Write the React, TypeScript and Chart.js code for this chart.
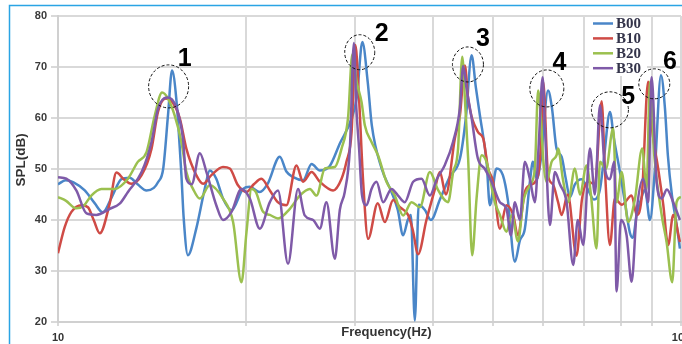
import React, { useEffect, useRef } from "react";
import { Chart, registerables } from "chart.js";

Chart.register(...registerables);

const seriesNames = ["B00", "B10", "B20", "B30"];
const seriesColors = ["#4a86c8", "#cf4b46", "#9bc04f", "#7f5aa8"];

const b00Freq = [10.0, 10.29, 10.59, 11.04, 11.45, 11.8, 12.2, 12.64, 13.03, 13.42, 13.87, 14.25, 14.47, 14.75, 15.02, 15.24, 15.48, 15.78, 15.91, 16.16, 16.67, 17.2, 17.52, 17.95, 18.4, 18.99, 19.82, 20.32, 21.08, 21.7, 22.7, 23.26, 23.85, 24.74, 25.53, 26.32, 27.31, 28.34, 29.6, 30.17, 30.8, 31.42, 31.89, 33.07, 34.3, 35.1, 35.81, 36.43, 36.85, 37.39, 37.93, 38.79, 39.68, 41.02, 42.56, 44.17, 45.15, 46.12, 46.85, 47.56, 48.74, 49.34, 50.56, 51.77, 52.72, 54.11, 55.13, 56.15, 57.21, 57.85, 58.69, 59.58, 61.18, 62.06, 63.13, 64.32, 65.34, 66.33, 67.56, 69.26, 70.87, 72.48, 74.11, 75.21, 76.9, 78.04, 79.8, 81.28, 82.79, 83.71, 84.84, 86.24, 87.51, 89.16, 90.81, 92.86, 94.23, 95.26, 96.71, 98.13, 99.6];
const b00Spl = [47.0, 47.8, 47.4, 45.8, 43.3, 41.5, 44.5, 48.0, 48.3, 47.0, 45.8, 46.3, 47.4, 50.0, 60.7, 69.3, 63.9, 48.8, 40.5, 33.1, 38.3, 46.1, 49.7, 48.1, 44.2, 41.9, 46.1, 46.5, 45.5, 47.1, 52.4, 49.5, 48.4, 47.8, 51.0, 49.7, 50.6, 55.0, 59.9, 64.0, 74.9, 67.0, 58.6, 50.1, 45.5, 42.0, 37.0, 40.0, 41.0, 20.3, 43.0, 42.0, 40.0, 44.0, 48.5, 52.0, 60.0, 72.3, 66.0, 60.5, 51.4, 42.9, 50.1, 48.8, 44.0, 31.8, 36.0, 38.3, 47.5, 51.4, 48.0, 52.0, 65.4, 62.0, 54.0, 52.4, 48.0, 44.5, 47.0, 48.0, 46.0, 44.0, 46.0, 52.0, 61.2, 56.0, 49.4, 43.5, 37.5, 36.5, 40.9, 44.0, 46.0, 40.0, 50.0, 68.4, 62.0, 52.7, 44.8, 40.0, 34.4];

const b10Freq = [10.0, 10.25, 10.51, 10.91, 11.17, 11.41, 11.67, 12.11, 12.41, 12.75, 13.11, 13.62, 14.13, 14.47, 14.89, 15.22, 15.68, 16.07, 16.67, 17.1, 17.63, 18.4, 18.87, 19.45, 20.07, 20.62, 21.21, 21.88, 22.53, 23.26, 24.14, 24.74, 25.53, 26.32, 27.64, 28.52, 29.04, 29.6, 30.01, 30.42, 30.89, 31.46, 32.6, 33.47, 34.51, 35.38, 36.47, 37.12, 37.84, 39.03, 40.26, 41.02, 41.93, 43.35, 44.17, 44.99, 45.53, 47.19, 48.14, 49.02, 49.94, 51.2, 52.47, 53.78, 54.7, 56.15, 57.21, 58.97, 59.73, 60.08, 61.18, 62.28, 63.49, 64.32, 65.81, 67.97, 69.34, 70.94, 72.74, 74.58, 75.48, 76.9, 78.32, 80.39, 83.31, 84.93, 86.56, 88.56, 89.82, 91.9, 93.65, 95.37, 97.17, 99.6];
const b10Spl = [33.5, 38.6, 41.6, 42.9, 42.5, 40.0, 37.4, 43.3, 49.3, 48.0, 47.1, 48.8, 54.0, 61.2, 63.8, 63.3, 60.0, 54.0, 48.8, 47.1, 48.8, 50.4, 50.1, 46.8, 45.5, 47.0, 48.1, 45.8, 43.5, 42.9, 50.7, 47.5, 49.4, 47.5, 45.8, 48.1, 51.4, 57.3, 74.3, 64.0, 47.5, 36.3, 43.3, 39.6, 43.9, 42.5, 41.0, 38.0, 33.3, 40.0, 46.0, 49.4, 45.0, 56.0, 60.5, 70.3, 63.8, 57.3, 56.0, 50.1, 47.5, 38.3, 42.9, 41.0, 37.0, 45.5, 46.8, 48.8, 57.3, 67.1, 48.8, 47.0, 43.5, 41.0, 45.0, 33.0, 44.0, 47.5, 47.0, 63.3, 50.0, 35.1, 44.2, 43.0, 44.8, 41.0, 45.0, 67.1, 58.0, 50.1, 43.0, 35.1, 41.0, 35.7];

const b20Freq = [10.0, 10.29, 10.7, 11.0, 11.31, 11.74, 12.33, 12.95, 13.43, 13.87, 14.3, 14.69, 15.02, 15.39, 15.78, 16.07, 16.47, 16.89, 17.52, 18.4, 19.1, 19.7, 20.07, 20.45, 20.77, 21.34, 21.88, 22.55, 23.56, 24.44, 25.37, 26.0, 26.81, 27.82, 28.52, 29.21, 29.68, 30.17, 30.71, 31.08, 31.86, 32.63, 33.67, 34.72, 35.81, 36.94, 38.09, 39.53, 40.7, 42.28, 43.08, 43.87, 44.55, 44.99, 45.53, 46.22, 46.97, 47.86, 48.74, 50.25, 51.2, 52.47, 53.52, 54.76, 55.8, 57.21, 58.27, 58.97, 59.58, 60.08, 60.83, 61.99, 63.13, 63.49, 64.63, 65.88, 67.56, 68.83, 70.54, 71.68, 73.19, 74.11, 75.76, 77.84, 78.81, 80.3, 82.25, 84.32, 86.65, 88.05, 89.16, 90.58, 93.1, 94.81, 96.82, 98.38, 100];
const b20Spl = [44.5, 43.8, 42.3, 42.8, 44.8, 46.1, 46.1, 48.1, 51.4, 53.3, 60.5, 65.0, 63.8, 60.5, 55.3, 49.4, 46.1, 44.2, 46.8, 44.2, 39.6, 27.8, 37.6, 46.1, 45.5, 41.6, 41.0, 40.3, 42.2, 44.8, 46.1, 44.8, 50.1, 50.4, 54.0, 60.0, 72.5, 67.0, 63.1, 58.6, 55.3, 52.7, 47.5, 44.8, 40.9, 43.5, 42.5, 49.4, 46.0, 43.5, 49.4, 54.0, 72.0, 63.8, 52.1, 33.1, 44.2, 52.7, 51.4, 43.5, 41.0, 37.7, 41.0, 35.8, 43.5, 46.8, 50.1, 65.4, 60.0, 52.1, 47.5, 51.4, 52.7, 54.0, 48.0, 43.5, 50.1, 45.0, 50.7, 45.0, 34.4, 51.4, 50.0, 58.0, 43.5, 49.4, 39.6, 44.0, 54.0, 46.1, 67.1, 52.7, 41.0, 35.7, 27.8, 43.5, 44.5];

const b30Freq = [10.0, 10.31, 10.7, 11.11, 11.52, 12.11, 12.56, 12.95, 13.62, 14.13, 14.47, 14.95, 15.22, 15.57, 15.87, 16.07, 16.39, 16.89, 17.31, 17.95, 18.4, 18.99, 19.7, 20.32, 21.08, 21.88, 22.55, 23.4, 24.28, 24.89, 25.68, 26.32, 26.97, 27.82, 28.34, 28.86, 29.41, 29.85, 30.12, 30.43, 30.75, 31.28, 31.86, 32.45, 33.26, 34.3, 35.14, 36.03, 37.16, 38.33, 39.53, 40.55, 41.78, 43.08, 44.17, 44.71, 45.27, 46.12, 47.19, 48.44, 49.65, 51.2, 52.47, 53.33, 54.11, 55.13, 56.15, 57.21, 58.27, 59.12, 59.96, 60.46, 61.6, 62.74, 63.92, 65.51, 67.14, 68.29, 69.67, 71.42, 72.74, 74.11, 75.48, 76.9, 78.12, 78.81, 80.1, 81.78, 83.31, 84.93, 86.97, 88.56, 89.72, 91.37, 93.1, 94.92, 97.17, 99.6];
const b30Spl = [48.4, 48.1, 45.8, 41.3, 41.0, 42.2, 43.2, 45.5, 49.4, 55.3, 61.8, 64.0, 63.7, 61.2, 56.0, 48.1, 47.0, 53.1, 49.4, 42.9, 40.0, 41.6, 46.1, 44.2, 38.3, 43.5, 45.8, 31.4, 46.1, 40.9, 40.0, 38.3, 43.5, 32.4, 42.0, 45.5, 54.0, 74.7, 62.0, 54.0, 45.0, 42.9, 46.1, 47.5, 43.5, 46.1, 44.8, 43.5, 47.5, 48.1, 44.8, 48.0, 50.8, 55.4, 62.0, 70.2, 65.8, 60.0, 52.1, 50.0, 47.5, 43.5, 42.2, 37.0, 43.5, 40.0, 51.4, 48.0, 43.5, 55.0, 68.0, 58.6, 39.0, 49.4, 47.0, 43.5, 31.2, 40.0, 35.1, 54.0, 45.0, 62.5, 50.1, 48.0, 51.4, 26.0, 40.0, 37.0, 27.9, 42.0, 48.1, 43.5, 68.0, 47.5, 44.2, 46.0, 43.5, 40.0];

const yMin = 20;
const yMax = 80;
const yStep = 10;
const xMin = 10;
const xMax = 100;
const xGridValues = [10, 20, 30, 40, 50, 60, 70, 80, 90, 100];
const xTickLabels = [10, 100];
const xTitle = "Frequency(Hz)";
const yTitle = "SPL(dB)";

// Peak markers (dashed circles) and their numbers
const markerText = ["1", "2", "3", "4", "5", "6"];
const markerFreq = [15.05, 30.5, 45.5, 60.9, 76.9, 90.6];
const markerSpl = [66.2, 72.9, 70.5, 65.8, 61.6, 66.7];
const markerRx = [20, 15, 15.5, 17, 18.5, 15.5];
const markerRy = [21.5, 17.5, 17.5, 18.5, 18, 15];
const markerLabelFreq = [15.97, 33.07, 48.1, 63.8, 82.3, 96.0];
const markerLabelSpl = [71.5, 76.5, 75.4, 70.7, 64.1, 71.0];

const seriesFreq = [b00Freq, b10Freq, b20Freq, b30Freq];
const seriesSpl = [b00Spl, b10Spl, b20Spl, b30Spl];

const FONT = "'Liberation Sans', Arial, sans-serif";

const framePlugin = {
  id: "frame",
  beforeDraw(chart: any) {
    const ctx = chart.ctx;
    ctx.save();
    ctx.fillStyle = "#ffffff";
    ctx.fillRect(0, 0, chart.width, chart.height);
    ctx.strokeStyle = "#2aa4e4";
    ctx.lineWidth = 1.5;
    ctx.beginPath();
    ctx.moveTo(9.5, chart.height);
    ctx.lineTo(9.5, 5.5);
    ctx.lineTo(chart.width, 5.5);
    ctx.stroke();
    ctx.restore();
  },
};

const overlayPlugin = {
  id: "overlay",
  afterDatasetsDraw(chart: any) {
    const ctx = chart.ctx;
    const xs = chart.scales.x;
    const ys = chart.scales.y;
    const area = chart.chartArea;
    ctx.save();

    // legend box inside plot
    const lx = area.right - 92;
    const ly = area.top + 1;
    ctx.fillStyle = "#ffffff";
    ctx.fillRect(lx, ly, 58, 59);
    chart.data.datasets.forEach((ds: any, i: number) => {
      const y = ly + 6.5 + i * 14.9;
      ctx.strokeStyle = ds.borderColor;
      ctx.lineWidth = 2.5;
      ctx.beginPath();
      ctx.moveTo(lx + 4, y);
      ctx.lineTo(lx + 24, y);
      ctx.stroke();
      ctx.fillStyle = "#34344a";
      ctx.font = "bold 15px 'Liberation Serif', 'Times New Roman', serif";
      ctx.textAlign = "left";
      ctx.textBaseline = "middle";
      ctx.fillText(ds.label, lx + 27, y + 0.5);
    });

    // dashed circles
    ctx.strokeStyle = "#111111";
    ctx.lineWidth = 1;
    ctx.setLineDash([3, 2]);
    for (let i = 0; i < markerText.length; i++) {
      const cx = xs.getPixelForValue(markerFreq[i]);
      const cy = ys.getPixelForValue(markerSpl[i]);
      ctx.beginPath();
      ctx.ellipse(cx, cy, markerRx[i], markerRy[i], 0, 0, Math.PI * 2);
      ctx.stroke();
    }
    ctx.setLineDash([]);
    ctx.fillStyle = "#000000";
    ctx.font = `bold 25px ${FONT}`;
    ctx.textAlign = "center";
    ctx.textBaseline = "middle";
    for (let i = 0; i < markerText.length; i++) {
      ctx.fillText(
        markerText[i],
        xs.getPixelForValue(markerLabelFreq[i]),
        ys.getPixelForValue(markerLabelSpl[i])
      );
    }
    ctx.restore();
  },
  afterDraw(chart: any) {
    const ctx = chart.ctx;
    const xs = chart.scales.x;
    const area = chart.chartArea;
    ctx.save();
    ctx.fillStyle = "#333333";
    ctx.font = `bold 11px ${FONT}`;
    ctx.textAlign = "center";
    ctx.textBaseline = "middle";
    xTickLabels.forEach((v) => {
      ctx.fillText(String(v), xs.getPixelForValue(v), area.bottom + 16);
    });
    ctx.font = `bold 13px ${FONT}`;
    ctx.fillText(xTitle, (area.left + area.right) / 2 + 17, area.bottom + 10.5);
    ctx.save();
    ctx.translate(21.5, 160);
    ctx.rotate(-Math.PI / 2);
    ctx.font = `bold 13.5px ${FONT}`;
    ctx.fillText(yTitle, 0, 0);
    ctx.restore();
    ctx.restore();
  },
};

export default function App() {
  const canvasRef = useRef<HTMLCanvasElement | null>(null);

  useEffect(() => {
    if (!canvasRef.current) return;
    const datasets = seriesNames.map((name, i) => ({
      label: name,
      data: seriesFreq[i].map((f, j) => ({ x: f, y: seriesSpl[i][j] })),
      borderColor: seriesColors[i],
      backgroundColor: seriesColors[i],
      borderWidth: 2.5,
      pointRadius: 0,
      cubicInterpolationMode: "monotone" as const,
      fill: false,
      order: seriesNames.length - 1 - i,
    }));
    const chart = new Chart(canvasRef.current, {
      type: "line",
      data: { datasets },
      options: {
        animation: false,
        responsive: false,
        devicePixelRatio: 1,
        layout: { padding: { top: 16, right: 1, bottom: 0, left: 0 } },
        plugins: {
          legend: { display: false },
          tooltip: { enabled: false },
          title: { display: false },
        },
        scales: {
          x: {
            type: "logarithmic",
            min: xMin,
            max: xMax,
            ticks: { display: false },
            grid: { color: "#d9d9d9", lineWidth: 2, tickLength: 4, drawTicks: true },
            border: { color: "#d0d0d0", width: 2 },
            afterBuildTicks: (s: any) => {
              s.ticks = xGridValues.map((v) => ({ value: v }));
            },
            afterFit: (s: any) => {
              s.height = 22;
            },
          },
          y: {
            type: "linear",
            min: yMin,
            max: yMax,
            ticks: {
              stepSize: yStep,
              padding: 4,
              color: "#3a3a3a",
              font: { family: FONT, size: 11, weight: "bold" },
            },
            grid: { color: "#d9d9d9", lineWidth: 2, tickLength: 7 },
            border: { color: "#d0d0d0", width: 2 },
            afterFit: (s: any) => {
              s.width = 58;
            },
          },
        },
      },
      plugins: [framePlugin, overlayPlugin],
    });
    return () => chart.destroy();
  }, []);

  return (
    <div
      style={{
        position: "fixed",
        left: 0,
        top: 0,
        width: 682,
        height: 344,
        background: "#ffffff",
        overflow: "hidden",
      }}
    >
      <canvas ref={canvasRef} width={682} height={344} style={{ width: 682, height: 344, display: "block" }} />
    </div>
  );
}
